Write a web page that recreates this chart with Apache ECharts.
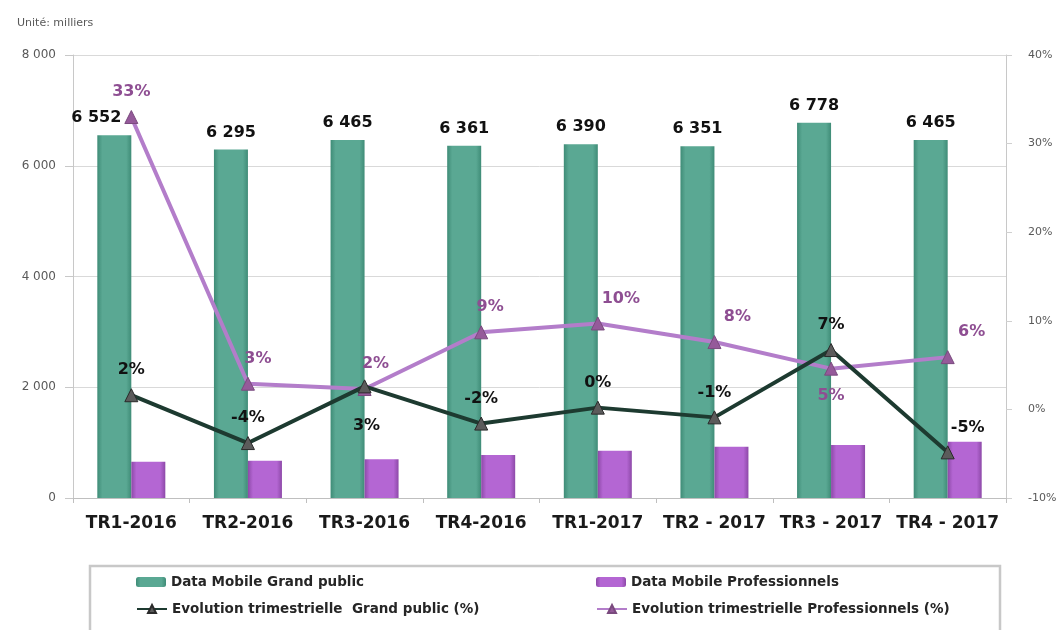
<!DOCTYPE html>
<html>
<head>
<meta charset="utf-8">
<script src="https://cdn.jsdelivr.net/npm/echarts@6/dist/echarts.min.js"></script>
<style>html,body{margin:0;padding:0;background:#fff}#c{width:1060px;height:630px}</style>
</head>
<body>
<div id="c"></div>
<script>
// ---- data ----
const categories = ['TR1-2016','TR2-2016','TR3-2016','TR4-2016','TR1-2017','TR2 - 2017','TR3 - 2017','TR4 - 2017'];
const grandPublic = [6552, 6295, 6465, 6361, 6390, 6351, 6778, 6465];
const professionnels = [655, 673, 698, 776, 854, 926, 957, 1016];
const evolGrandPublic = [1.6, -3.8, 2.6, -1.6, 0.2, -0.9, 6.7, -4.85];
const evolPro = [33.0, 2.9, 2.3, 8.7, 9.7, 7.6, 4.6, 5.9];
const leftTicks = [0, 2000, 4000, 6000, 8000];
const rightTicks = [-10, 0, 10, 20, 30, 40];
const seriesNames = ['Data Mobile Grand public','Data Mobile Professionnels','Evolution trimestrielle  Grand public (%)','Evolution trimestrielle Professionnels (%)'];

// ---- label placement (style only) ----
const gpLabelPlace = [['top',0,0],['top',0,0],['bottom',2,14],['top',0,0],['top',0,0],['top',0,0],['top',0,0],['top',20,0]];
const proLabelPlace = [['top',0,0],['top',10,0],['top',11,0],['top',9,0],['top',23,0],['top',23,0],['bottom',0,2],['top',24,0]];
const barLabelOffset = [[-18,0],[0,0],[0,0],[0,0],[0,0],[0,0],[0,0],[0,0]];

const fmtThousands = v => String(v).replace(/\B(?=(\d{3})+(?!\d))/g, ' ');
const FONT = 'DejaVu Sans';

const chart = echarts.init(document.getElementById('c'), null, {renderer:'canvas'});

const greenGrad = new echarts.graphic.LinearGradient(0,0,1,0,[
  {offset:0,color:'#3f8c77'},{offset:0.15,color:'#5aa893'},{offset:0.85,color:'#5aa893'},{offset:1,color:'#3f8c77'}]);
const purpleGrad = new echarts.graphic.LinearGradient(0,0,1,0,[
  {offset:0,color:'#8d49a8'},{offset:0.15,color:'#b466d3'},{offset:0.85,color:'#b466d3'},{offset:1,color:'#8d49a8'}]);

function legendItem(name, left, top) {
  return {
    data:[name], left:left, top:top, orient:'horizontal',
    itemWidth:30, itemHeight:10, itemGap:4, padding:0,
    textStyle:{fontFamily:FONT, fontWeight:'bold', fontSize:13.5, color:'#262626'}
  };
}

const option = {
  animation:false,
  backgroundColor:'#fff',
  title:{text:'Unité: milliers', left:12, top:13, textStyle:{fontFamily:FONT, fontSize:11, fontWeight:'normal', color:'#595959'}},
  grid:{left:73, right:54, top:55, bottom:132},
  legend:[
    legendItem(seriesNames[0], 136, 575),
    legendItem(seriesNames[1], 596, 575),
    legendItem(seriesNames[2], 136, 602),
    legendItem(seriesNames[3], 596, 602)
  ],
  graphic:[{type:'rect', shape:{x:90, y:566, width:910, height:80}, style:{fill:'none', stroke:'#c8c8c8', lineWidth:2.5}, z:-1}],
  xAxis:{
    type:'category', data:categories, boundaryGap:true,
    axisLine:{lineStyle:{color:'#bfbfbf', width:1}},
    axisTick:{show:true, alignWithLabel:false, length:5, lineStyle:{color:'#bfbfbf'}},
    axisLabel:{fontFamily:FONT, fontWeight:'bold', fontSize:17, color:'#1a1a1a', margin:17, interval:0}
  },
  yAxis:[
    {type:'value', min:leftTicks[0], max:leftTicks[leftTicks.length-1], interval:2000, position:'left',
     axisLine:{show:true, lineStyle:{color:'#c8c8c8'}},
     axisTick:{show:true, length:8, lineStyle:{color:'#c8c8c8'}},
     splitLine:{show:true, lineStyle:{color:'#d9d9d9', width:1}},
     axisLabel:{fontFamily:FONT, fontSize:12, color:'#595959', margin:17, formatter:v=>fmtThousands(v)}},
    {type:'value', min:rightTicks[0], max:rightTicks[rightTicks.length-1], interval:10, position:'right',
     axisLine:{show:true, lineStyle:{color:'#c8c8c8'}},
     axisTick:{show:true, length:6, lineStyle:{color:'#d0d0d0'}},
     splitLine:{show:false},
     axisLabel:{fontFamily:FONT, fontSize:11, color:'#595959', margin:22, formatter:v=>v+'%'}}
  ],
  series:[
    {name:seriesNames[0], type:'bar', yAxisIndex:0, barWidth:34, barGap:'0%',
     itemStyle:{color:greenGrad},
     data:grandPublic.map((v,i)=>({value:v, label:{offset:barLabelOffset[i]}})),
     label:{show:true, position:'top', distance:9, fontFamily:FONT, fontWeight:'bold', fontSize:16, color:'#111', formatter:p=>fmtThousands(p.value)},
     z:2},
    {name:seriesNames[1], type:'bar', yAxisIndex:0, barWidth:34, barGap:'0%',
     itemStyle:{color:purpleGrad},
     data:professionnels, z:2},
    {name:seriesNames[2], type:'line', yAxisIndex:1, symbol:'triangle', symbolSize:13,
     lineStyle:{color:'#1d3a30', width:4},
     itemStyle:{color:'#5b5b5b', borderColor:'#2a2a2a', borderWidth:1},
     data:evolGrandPublic.map((v,i)=>({value:v, label:{position:gpLabelPlace[i][0], offset:[gpLabelPlace[i][1], gpLabelPlace[i][2]]}})),
     label:{show:true, distance:10, fontFamily:FONT, fontWeight:'bold', fontSize:16, color:'#111', formatter:p=>Math.round(p.value)+'%'},
     z:5},
    {name:seriesNames[3], type:'line', yAxisIndex:1, symbol:'triangle', symbolSize:13,
     lineStyle:{color:'#b37dca', width:4},
     itemStyle:{color:'#955a9a', borderColor:'#7a4a7e', borderWidth:1},
     data:evolPro.map((v,i)=>({value:v, label:{position:proLabelPlace[i][0], offset:[proLabelPlace[i][1], proLabelPlace[i][2]]}})),
     label:{show:true, distance:10, fontFamily:FONT, fontWeight:'bold', fontSize:16, color:'#8e4e92', formatter:p=>Math.round(p.value)+'%'},
     z:4}
  ]
};
chart.setOption(option);
</script>
</body>
</html>
